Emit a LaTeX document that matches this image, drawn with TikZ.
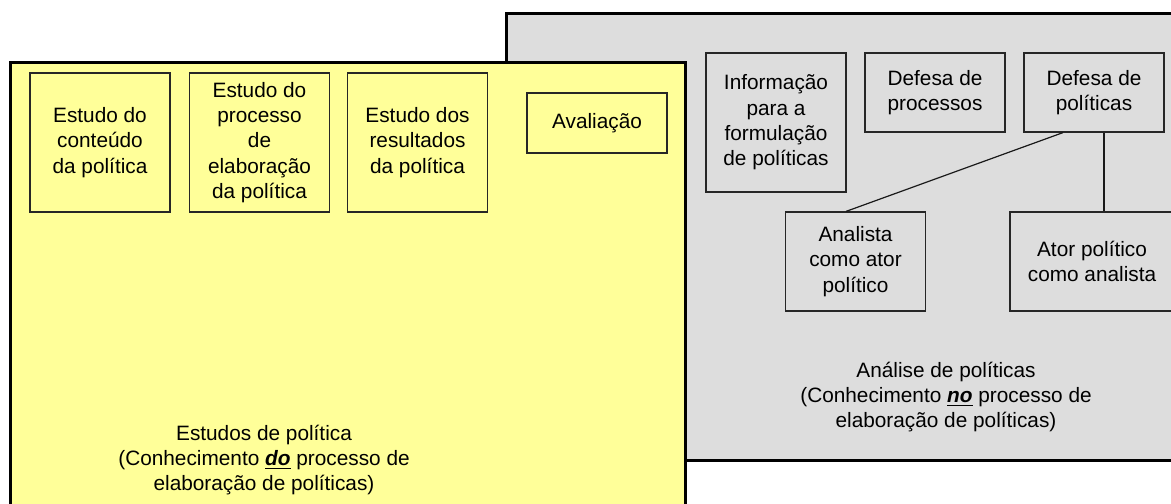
\documentclass[tikz,border=0pt]{standalone}
\usepackage{fontspec}
\setmainfont{Liberation Sans}
\definecolor{panelyellow}{RGB}{255,255,153}
\definecolor{panelgray}{RGB}{221,221,221}
\tikzset{
  txt/.style={font=\fontsize{10.4pt}{12.7pt}\selectfont, text=black, align=center, inner sep=0pt},
  smallbox/.style={txt, draw=black!85, line width=0.6pt, rectangle, minimum width=70pt},
  panel/.style={draw=black, line width=1.5pt},
  link/.style={draw=black!90, line width=0.6pt}
}
\begin{document}
\begin{tikzpicture}[x=0.5pt, y=-0.5pt]
\useasboundingbox (0,0) rectangle (1171,503);
\clip (0,0) rectangle (1171,503);
% panels
\path[panel, fill=panelgray] (506.5,13) rectangle (1190,460.5);
\path[panel, fill=panelyellow] (10.5,62) rectangle (685.5,520);
% yellow boxes
\node[smallbox, fill=panelyellow, minimum height=69.5pt] (b1) at (100,142.5) {Estudo do\\conteúdo\\da política};
\node[smallbox, fill=panelyellow, minimum height=69.5pt] (b2) at (259.5,142.5) {Estudo do\\processo\\de\\elaboração\\da política};
\node[smallbox, fill=panelyellow, minimum height=69.5pt] (b3) at (417.5,142.5) {Estudo dos\\resultados\\da política};
\node[smallbox, fill=panelyellow, minimum height=30pt] (aval) at (597,123) {Avaliação};
% gray boxes
\node[smallbox, fill=panelgray, minimum height=69.5pt] (info) at (776,122.5) {Informação\\para a\\formulação\\de políticas};
\node[smallbox, fill=panelgray, minimum height=39.5pt] (defproc) at (935,92.5) {Defesa de\\processos};
\node[smallbox, fill=panelgray, minimum height=39.5pt] (defpol) at (1094,92.5) {Defesa de\\políticas};
\node[smallbox, fill=panelgray, minimum height=49.5pt] (analista) at (855.5,261.5) {Analista\\como ator\\político};
\node[smallbox, fill=panelgray, minimum height=49.5pt, minimum width=82pt] (ator) at (1092,261.5) {Ator político\\como analista};
% connectors
\draw[link] ([xshift=-15.5pt]defpol.south) -- ([xshift=-4.75pt]analista.north);
\draw[link] ([xshift=5pt]defpol.south) -- ([xshift=5pt]defpol.south |- ator.north);
% panel labels
\node[txt] (lblgray) at (946,397) {Análise de políticas\\(Conhecimento \underline{\textbf{\textit{no}}} processo de\\elaboração de políticas)};
\node[txt] (lblyellow) at (264,460) {Estudos de política\\(Conhecimento \underline{\textbf{\textit{do}}} processo de\\elaboração de políticas)};
\end{tikzpicture}
\end{document}
